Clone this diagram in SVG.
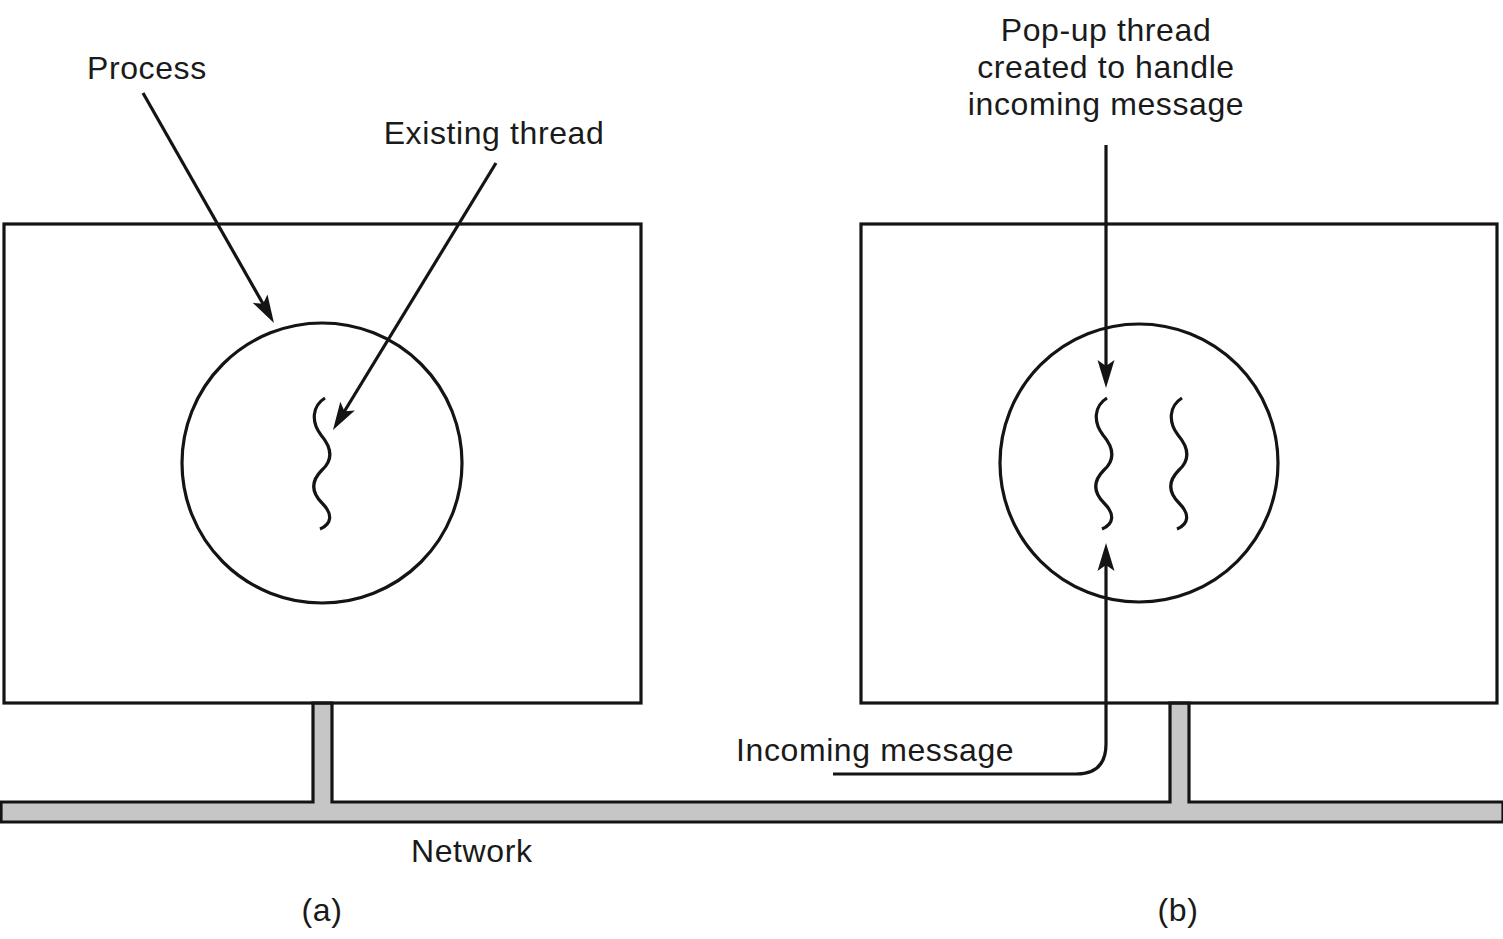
<svg xmlns="http://www.w3.org/2000/svg" width="1503" height="939" viewBox="0 0 1503 939">
<style>
.box{fill:none;stroke:#141414;stroke-width:3.2}
.thr{fill:none;stroke:#141414;stroke-width:3.2;stroke-linecap:butt}
.con{fill:none;stroke:#141414;stroke-width:3.2;marker-end:url(#ah)}
text{font-family:"Liberation Sans",Arial,sans-serif;font-size:32px;fill:#1a1a1a;letter-spacing:0.6px}
.mid{text-anchor:middle}
</style>
<defs>
<marker id="ah" markerUnits="userSpaceOnUse" viewBox="-32 -11 34 22" markerWidth="34" markerHeight="22" refX="-10" refY="0" orient="auto" overflow="visible">
<path d="M0,0 L-28,-8.5 L-22,0 L-28,8.5 Z" fill="#141414"/>
</marker>
<path id="wave" d="M325,398 C312,406 311,422 321,435 C332,448 333,460 322,470 C311,481 311,492 322,503 C333,514 332,524 320,529"/>
</defs>
<rect width="1503" height="939" fill="#fff"/>

<g id="network">
<path d="M1,802 H313 V703 H332 V802 H1170 V703 H1189 V802 H1503 V822 H1 Z" fill="#c6c6c6" stroke="#141414" stroke-width="3.2"/>
</g>

<g id="machine-a">
<rect class="box" x="4" y="224" width="637" height="479"/>
</g>
<g id="process-a">
<circle class="box" cx="322" cy="463" r="140"/>
</g>
<g id="thread-a">
<use href="#wave" class="thr"/>
</g>

<g id="machine-b">
<rect class="box" x="861" y="224" width="636" height="479"/>
</g>
<g id="process-b">
<circle class="box" cx="1139" cy="463" r="139"/>
</g>
<g id="thread-b1">
<use href="#wave" class="thr" transform="translate(782,0)"/>
</g>
<g id="thread-b2">
<use href="#wave" class="thr" transform="translate(857,0)"/>
</g>

<g id="connectors">
<path class="con" d="M143,93 L269,314.3"/>
<path class="con" d="M496,163 L338.2,421.5"/>
<path class="con" d="M1106,145 V378"/>
<path class="con" d="M833,774 H1076 Q1106,774 1106,744 V553"/>
</g>

<g id="labels">
<text x="87" y="79">Process</text>
<text x="494" y="144" class="mid">Existing thread</text>
<text x="1106" y="41" class="mid">Pop-up thread</text>
<text x="1106" y="78" class="mid">created to handle</text>
<text x="1106" y="115" class="mid">incoming message</text>
<text x="736" y="761">Incoming message</text>
<text x="411" y="862">Network</text>
<text x="322" y="921" class="mid">(a)</text>
<text x="1178" y="921" class="mid">(b)</text>
</g>
</svg>
